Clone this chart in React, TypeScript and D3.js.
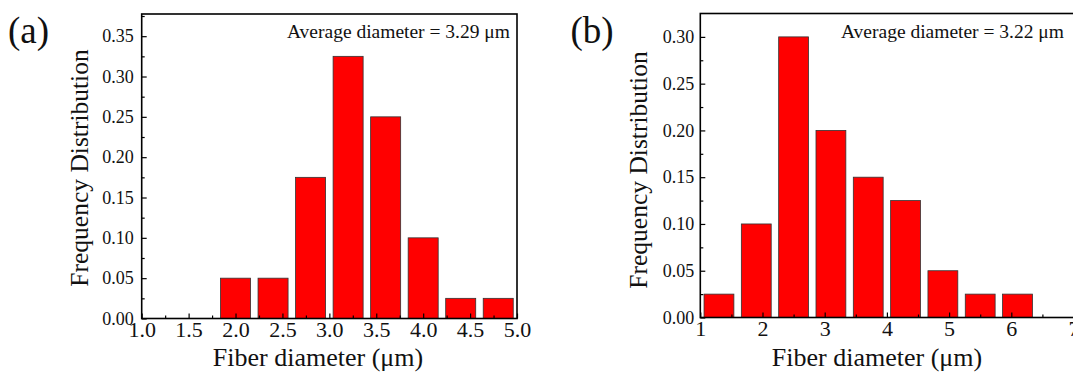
import React, { useEffect, useRef } from 'react'
import { select, scaleLinear, axisLeft, axisBottom, format } from 'd3'

// panel (a)
const binsA = [2.0, 2.4, 2.8, 3.2, 3.6, 4.0, 4.4, 4.8]
const freqA = [0.05, 0.05, 0.175, 0.325, 0.25, 0.10, 0.025, 0.025]
const xTicksA = [1.0, 1.5, 2.0, 2.5, 3.0, 3.5, 4.0, 4.5, 5.0]
const xMinorA = [1.25, 1.75, 2.25, 2.75, 3.25, 3.75, 4.25, 4.75]
const yTicksA = [0, 0.05, 0.10, 0.15, 0.20, 0.25, 0.30, 0.35]

// panel (b)
const binsB = [1.3, 1.9, 2.5, 3.1, 3.7, 4.3, 4.9, 5.5, 6.1]
const freqB = [0.025, 0.10, 0.30, 0.20, 0.15, 0.125, 0.05, 0.025, 0.025]
const xTicksB = [1, 2, 3, 4, 5, 6, 7]
const xMinorB = [1.5, 2.5, 3.5, 4.5, 5.5, 6.5]
const yTicksB = [0, 0.05, 0.10, 0.15, 0.20, 0.25, 0.30]

const panelLabels = ['(a)', '(b)']
const averages = ['Average diameter = 3.29 \u03bcm', 'Average diameter = 3.22 \u03bcm']
const xTitle = 'Fiber diameter (\u03bcm)'
const yTitle = 'Frequency Distribution'

const W = 1073
const H = 373
const FONT = '"Liberation Serif", "Times New Roman", serif'

const panels = [
    {
        label: panelLabels[0], avg: averages[0], bins: binsA, freq: freqA, binWidth: 0.4,
        xTicks: xTicksA, xMinor: xMinorA, yTicks: yTicksA, xFmt: format('.1f'),
        xDomain: [1, 5], yDomain: [0, 0.3775],
        box: { l: 141.7, r: 517, t: 14, b: 318.5 },
        yPad: 8, labelX: 8, yTitleX: 88, yTitleY: 168, xTitleX: 318
    },
    {
        label: panelLabels[1], avg: averages[1], bins: binsB, freq: freqB, binWidth: 0.6,
        xTicks: xTicksB, xMinor: xMinorB, yTicks: yTicksB, xFmt: format('d'),
        xDomain: [1, 7.1], yDomain: [0, 0.325],
        box: { l: 700.3, r: 700.3 + 6.1 * 62.2, t: 13.5, b: 317.5 },
        yPad: 6, labelX: 570.5, yTitleX: 647, yTitleY: 170, xTitleX: 877
    }
]

export default function App() {
    const ref = useRef<SVGSVGElement>(null)

    useEffect(() => {
        const svg = select(ref.current)
        svg.selectAll('*').remove()

        panels.forEach((p) => {
            const { l, r, t, b } = p.box
            const x = scaleLinear().domain(p.xDomain).range([l, r])
            const y = scaleLinear().domain(p.yDomain).range([b, t])
            const yMinor = p.yTicks.map((v) => v + 0.025).filter((v) => v < p.yDomain[1])

            const g = svg.append('g')

            // bars
            g.selectAll('.bar').data(p.bins).join('rect')
                .attr('class', 'bar')
                .attr('x', (d) => x(d - p.binWidth * 0.4))
                .attr('width', (d) => x(d + p.binWidth * 0.4) - x(d - p.binWidth * 0.4))
                .attr('y', (d, i) => y(p.freq[i]))
                .attr('height', (d, i) => y(0) - y(p.freq[i]))
                .attr('fill', '#ff0000')
                .attr('stroke', '#333')
                .attr('stroke-width', 0.8)

            // axes, ticks pointing in
            const yAxis = axisLeft(y).tickValues(p.yTicks).tickSize(-5).tickPadding(p.yPad)
                .tickFormat(format('.2f'))
            const yAxisMinor = axisLeft(y).tickValues(yMinor).tickSize(-3).tickFormat(() => '')
            const xAxis = axisBottom(x).tickValues(p.xTicks).tickSize(-5).tickPadding(3)
                .tickFormat(p.xFmt)
            const xAxisMinor = axisBottom(x).tickValues(p.xMinor).tickSize(-3).tickFormat(() => '')

            const ya = g.append('g').attr('transform', `translate(${l},0)`).call(yAxis)
            g.append('g').attr('transform', `translate(${l},0)`).call(yAxisMinor)
            const xa = g.append('g').attr('transform', `translate(0,${b})`).call(xAxis)
            g.append('g').attr('transform', `translate(0,${b})`).call(xAxisMinor)

            g.selectAll('.domain').remove()
            g.selectAll('.tick line').attr('stroke', '#000').attr('stroke-width', 1.2)
            ya.selectAll('text').attr('font-family', FONT).attr('font-size', 18).attr('fill', '#111')
            xa.selectAll('text').attr('font-family', FONT).attr('font-size', 22).attr('fill', '#111')

            // frame
            g.append('rect')
                .attr('x', l).attr('y', t)
                .attr('width', r - l).attr('height', b - t)
                .attr('fill', 'none').attr('stroke', '#000').attr('stroke-width', 1.6)

            // texts
            g.append('text')
                .attr('x', p.labelX).attr('y', 43)
                .attr('font-family', FONT).attr('font-size', 37).attr('fill', '#111')
                .text(p.label)

            g.append('text')
                .attr('x', p === panels[0] ? 510 : 1064).attr('y', 37.5)
                .attr('text-anchor', 'end')
                .attr('font-family', FONT).attr('font-size', 19.5).attr('fill', '#111')
                .text(p.avg)

            g.append('text')
                .attr('x', p.xTitleX).attr('y', 366)
                .attr('text-anchor', 'middle')
                .attr('font-family', FONT).attr('font-size', 26).attr('fill', '#111')
                .text(xTitle)

            g.append('text')
                .attr('transform', `translate(${p.yTitleX},${p.yTitleY}) rotate(-90)`)
                .attr('text-anchor', 'middle')
                .attr('font-family', FONT).attr('font-size', 25.5).attr('fill', '#111')
                .text(yTitle)
        })
    }, [])

    return (
        <svg ref={ref} width={W} height={H}
            style={{ position: 'absolute', left: 0, top: 0, background: '#fff' }} />
    )
}
